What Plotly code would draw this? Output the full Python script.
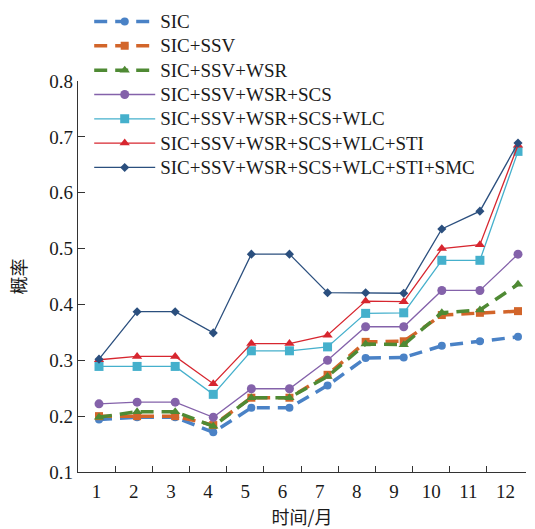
import plotly.graph_objects as go

months = list(range(1, 13))
month_labels = [str(m) for m in months]
series_names = [
    "SIC",
    "SIC+SSV",
    "SIC+SSV+WSR",
    "SIC+SSV+WSR+SCS",
    "SIC+SSV+WSR+SCS+WLC",
    "SIC+SSV+WSR+SCS+WLC+STI",
    "SIC+SSV+WSR+SCS+WLC+STI+SMC",
]
sic = [0.194, 0.198, 0.198, 0.171, 0.215, 0.215, 0.255, 0.304, 0.305, 0.326, 0.334, 0.342]
ssv = [0.200, 0.200, 0.200, 0.184, 0.233, 0.233, 0.274, 0.333, 0.334, 0.381, 0.385, 0.388]
wsr = [0.198, 0.208, 0.208, 0.182, 0.233, 0.233, 0.271, 0.329, 0.328, 0.385, 0.390, 0.436]
scs = [0.222, 0.225, 0.225, 0.198, 0.249, 0.249, 0.300, 0.360, 0.360, 0.425, 0.425, 0.490]
wlc = [0.289, 0.289, 0.289, 0.239, 0.317, 0.317, 0.324, 0.384, 0.385, 0.479, 0.479, 0.674]
sti = [0.301, 0.307, 0.307, 0.258, 0.330, 0.330, 0.345, 0.406, 0.405, 0.500, 0.507, 0.685]
smc = [0.302, 0.387, 0.387, 0.349, 0.490, 0.490, 0.421, 0.421, 0.420, 0.535, 0.567, 0.689]
y_ticks = [0.1, 0.2, 0.3, 0.4, 0.5, 0.6, 0.7, 0.8]

all_values = [sic, ssv, wsr, scs, wlc, sti, smc]
colors = ["#4a82c6", "#d2652a", "#4f8a34", "#8462aa", "#45b0cc", "#d7262f", "#2b4f7e"]
symbols = ["circle", "square", "triangle-up", "circle", "square", "triangle-up", "diamond"]
sizes = [8, 8, 9, 9, 9, 9, 7]
dashed = [True, True, True, False, False, False, False]

FONT = "Liberation Serif"
CJK = "Noto Sans CJK SC"
TXT = "#1a1a1a"

fig = go.Figure()
for name, vals, c, s, sz, d in zip(series_names, all_values, colors, symbols, sizes, dashed):
    fig.add_trace(go.Scatter(
        x=months, y=vals, name=f"<span style='font-size:19px'>{name}</span>",
        mode="lines+markers",
        line=dict(color=c, width=3.5 if d else 1.3, dash="13px,8px" if d else "solid"),
        marker=dict(symbol=s, size=sz, color=c),
        xaxis="x", yaxis="y",
    ))

# empty helper trace so the labelled month axis is drawn
fig.add_trace(go.Scatter(x=months, y=[None] * len(months), xaxis="x2", yaxis="y",
                         mode="lines", showlegend=False, hoverinfo="skip"))

fig.update_layout(
    width=535, height=529,
    margin=dict(l=78, r=9, t=81, b=57, autoexpand=False),
    paper_bgcolor="white", plot_bgcolor="white",
    font=dict(family=FONT, size=19, color=TXT),
    showlegend=True,
    legend=dict(
        x=0.025, y=1.196, xanchor="left", yanchor="top",
        bgcolor="rgba(0,0,0,0)", borderwidth=0,
        font=dict(family=FONT, size=16.4, color=TXT),
        itemwidth=61, tracegroupgap=0,
    ),
    xaxis=dict(
        range=[0.4487, 12.21], showticklabels=False, ticks="",
        showline=False, showgrid=False, zeroline=False,
    ),
    xaxis2=dict(
        overlaying="x", side="bottom", anchor="y",
        range=[0.5, 12.55], tickmode="array", tickvals=months, ticktext=month_labels,
        ticks="", showgrid=False, zeroline=False, ticklabelstandoff=2,
        showline=True, linecolor="#333", linewidth=1.2,
        tickfont=dict(family=FONT, size=19, color=TXT),
        minor=dict(tickmode="array", tickvals=[m + 0.5 for m in months[:-1]],
                   ticks="inside", ticklen=6, tickcolor="#333", tickwidth=1),
        title=dict(text="时间/月", font=dict(family=CJK, size=18, color=TXT), standoff=14),
    ),
    yaxis=dict(
        range=[0.1, 0.8], tickmode="array", tickvals=y_ticks,
        ticktext=[f"{v:.1f}" for v in y_ticks],
        ticks="inside", ticklen=7, tickcolor="#333",
        showline=True, linecolor="#333", linewidth=1.2,
        showgrid=False, zeroline=False,
        tickfont=dict(family=FONT, size=19, color=TXT),
        title=dict(text="概率", font=dict(family=CJK, size=18, color=TXT), standoff=18),
    ),
)

fig.write_html("out.html", config={"displayModeBar": False},
               post_script="document.body.style.margin='0';")
